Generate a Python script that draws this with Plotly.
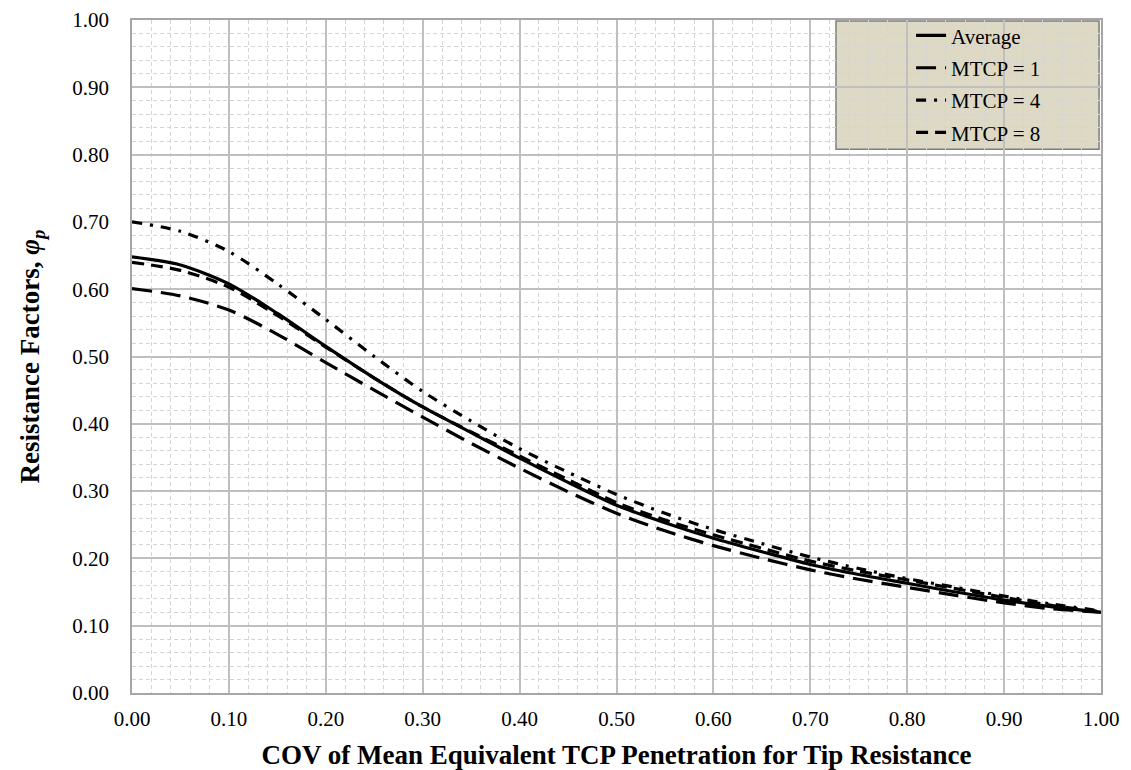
import plotly.graph_objects as go

# COV of the mean equivalent TCP penetration
cov = [0.00, 0.05, 0.10, 0.15, 0.20, 0.25, 0.30, 0.35, 0.40, 0.45, 0.50,
       0.55, 0.60, 0.65, 0.70, 0.75, 0.80, 0.85, 0.90, 0.95, 1.00]

# Resistance factors for each case
phi_average = [0.648, 0.636, 0.608, 0.564, 0.515, 0.468, 0.425, 0.387, 0.349, 0.313, 0.279,
               0.253, 0.230, 0.210, 0.191, 0.176, 0.163, 0.150, 0.138, 0.128, 0.120]
phi_mtcp1 = [0.601, 0.590, 0.569, 0.533, 0.491, 0.450, 0.410, 0.371, 0.334, 0.299, 0.267,
             0.241, 0.219, 0.200, 0.183, 0.169, 0.157, 0.145, 0.134, 0.125, 0.120]
phi_mtcp4 = [0.700, 0.686, 0.656, 0.608, 0.555, 0.500, 0.448, 0.404, 0.363, 0.328, 0.295,
             0.267, 0.243, 0.222, 0.202, 0.185, 0.170, 0.157, 0.144, 0.132, 0.122]
phi_mtcp8 = [0.640, 0.628, 0.603, 0.561, 0.514, 0.468, 0.425, 0.388, 0.352, 0.317, 0.283,
             0.257, 0.235, 0.215, 0.196, 0.181, 0.168, 0.155, 0.142, 0.130, 0.121]

series = [
    ("Average", phi_average, "solid"),
    ("MTCP = 1", phi_mtcp1, "20px,9px"),
    ("MTCP = 4", phi_mtcp4, "10px,8px,3px,8px"),
    ("MTCP = 8", phi_mtcp8, "12px,7px"),
]

fig = go.Figure()
for name, vals, dash in series:
    fig.add_trace(go.Scatter(
        x=cov, y=vals, name=name, mode="lines", legendgroup=name,
        line=dict(color="black", width=3.2, dash=dash, shape="spline", smoothing=0.8),
    ))

serif = "Liberation Serif, Times New Roman, serif"
grid_major = "#BFBFBF"
grid_minor = "#D4D4D4"

axis_common = dict(
    range=[0, 1], dtick=0.1, tickformat=".2f",
    showgrid=True, gridcolor=grid_major, gridwidth=1.5,
    showline=True, linecolor="#A6A6A6", linewidth=1.5, mirror=True,
    zeroline=False, ticks="", automargin=False,
    tickfont=dict(family=serif, size=21, color="black"),
    minor=dict(dtick=0.02, showgrid=True, gridcolor=grid_minor, griddash="4px,3px", gridwidth=1),
)

fig.update_layout(
    width=1131, height=770,
    margin=dict(l=132, r=30, t=20, b=77),
    paper_bgcolor="white", plot_bgcolor="white",
    xaxis=dict(**axis_common, ticklabelstandoff=6,
               title=dict(text="<b>COV of Mean Equivalent TCP Penetration for Tip Resistance</b>",
                          font=dict(family=serif, size=27, color="black"), standoff=18)),
    yaxis=dict(**axis_common, ticklabelstandoff=17,
               title=dict(text="<b>Resistance Factors, <i>φ</i><sub><i>p</i></sub></b>",
                          font=dict(family=serif, size=27, color="black"), standoff=25)),
    legend=dict(
        x=0.804, y=1.007, xanchor="left", yanchor="top",
        bgcolor="rgba(0,0,0,0)", borderwidth=0,
        font=dict(family=serif, size=21, color="black"),
        tracegroupgap=2, traceorder="grouped",
    ),
    shapes=[dict(type="rect", xref="paper", yref="paper",
                 x0=0.7265, x1=0.998, y0=0.808, y1=0.9985,
                 fillcolor="#DDD9C4", line=dict(color="#7F7F7F", width=1.5),
                 layer="below")],
)

fig.write_html("out.html")
